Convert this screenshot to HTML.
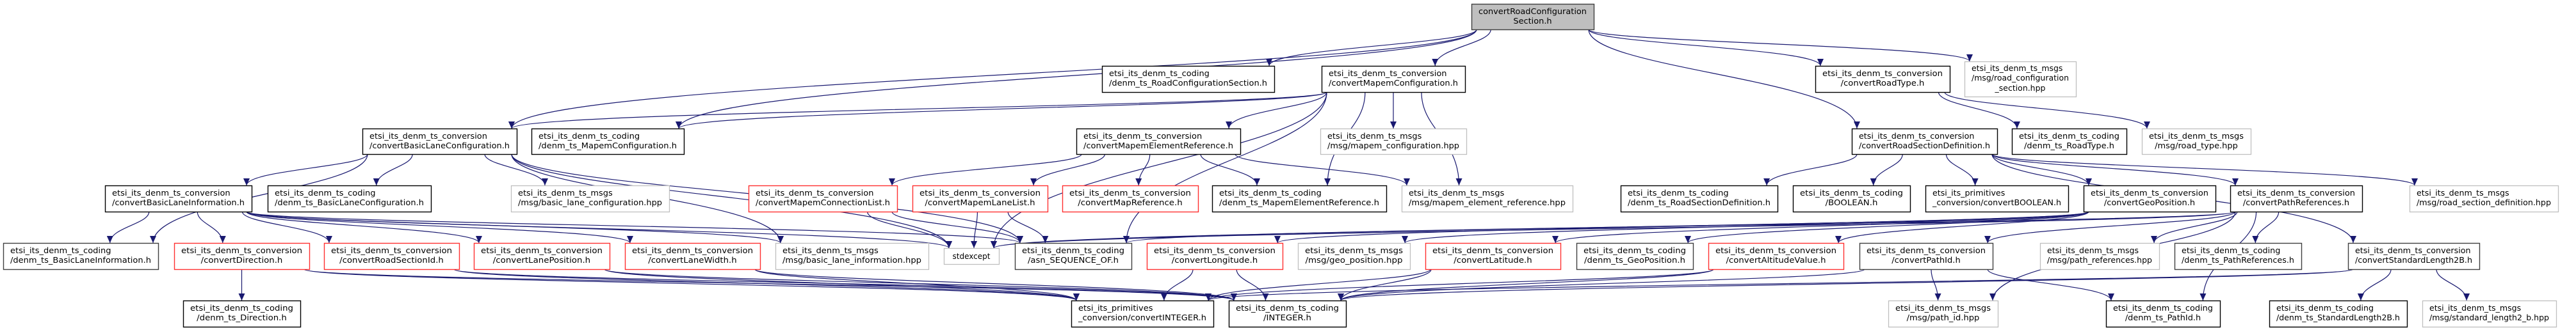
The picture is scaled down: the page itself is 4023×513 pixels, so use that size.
<!DOCTYPE html>
<html><head><meta charset="utf-8">
<style>
html,body{margin:0;padding:0;background:#fff;}
svg{display:block;}
text{font-family:"DejaVu Sans","Liberation Sans",sans-serif;font-size:12px;fill:#000;}
</style></head>
<body>
<svg id="s" width="4023" height="513" viewBox="0 0 4023 513" xmlns="http://www.w3.org/2000/svg">
<defs><marker id="ah" markerUnits="userSpaceOnUse" markerWidth="12" markerHeight="10" refX="11" refY="5" orient="auto"><path d="M0,0 L11,5 L0,10 z" fill="#191970"/></marker></defs>
<g id="edges"></g>
<g id="nodes">
<g id="top"><text>convertRoadConfiguration</text><text>Section.h</text></g>
<g id="mc"><text>etsi_its_denm_ts_conversion</text><text>/convertMapemConfiguration.h</text></g>
<g id="rcs"><text>etsi_its_denm_ts_coding</text><text>/denm_ts_RoadConfigurationSection.h</text></g>
<g id="rt"><text>etsi_its_denm_ts_conversion</text><text>/convertRoadType.h</text></g>
<g id="rcshpp"><text>etsi_its_denm_ts_msgs</text><text>/msg/road_configuration</text><text>_section.hpp</text></g>
<g id="blc"><text>etsi_its_denm_ts_conversion</text><text>/convertBasicLaneConfiguration.h</text></g>
<g id="mcc"><text>etsi_its_denm_ts_coding</text><text>/denm_ts_MapemConfiguration.h</text></g>
<g id="mer"><text>etsi_its_denm_ts_conversion</text><text>/convertMapemElementReference.h</text></g>
<g id="mchpp"><text>etsi_its_denm_ts_msgs</text><text>/msg/mapem_configuration.hpp</text></g>
<g id="rsd"><text>etsi_its_denm_ts_conversion</text><text>/convertRoadSectionDefinition.h</text></g>
<g id="rth"><text>etsi_its_denm_ts_coding</text><text>/denm_ts_RoadType.h</text></g>
<g id="rthpp"><text>etsi_its_denm_ts_msgs</text><text>/msg/road_type.hpp</text></g>
<g id="bli"><text>etsi_its_denm_ts_conversion</text><text>/convertBasicLaneInformation.h</text></g>
<g id="blch"><text>etsi_its_denm_ts_coding</text><text>/denm_ts_BasicLaneConfiguration.h</text></g>
<g id="blchpp"><text>etsi_its_denm_ts_msgs</text><text>/msg/basic_lane_configuration.hpp</text></g>
<g id="mcl"><text>etsi_its_denm_ts_conversion</text><text>/convertMapemConnectionList.h</text></g>
<g id="mll"><text>etsi_its_denm_ts_conversion</text><text>/convertMapemLaneList.h</text></g>
<g id="mr"><text>etsi_its_denm_ts_conversion</text><text>/convertMapReference.h</text></g>
<g id="merh"><text>etsi_its_denm_ts_coding</text><text>/denm_ts_MapemElementReference.h</text></g>
<g id="merhpp"><text>etsi_its_denm_ts_msgs</text><text>/msg/mapem_element_reference.hpp</text></g>
<g id="rsdh"><text>etsi_its_denm_ts_coding</text><text>/denm_ts_RoadSectionDefinition.h</text></g>
<g id="boolh"><text>etsi_its_denm_ts_coding</text><text>/BOOLEAN.h</text></g>
<g id="cbool"><text>etsi_its_primitives</text><text>_conversion/convertBOOLEAN.h</text></g>
<g id="geo"><text>etsi_its_denm_ts_conversion</text><text>/convertGeoPosition.h</text></g>
<g id="pr"><text>etsi_its_denm_ts_conversion</text><text>/convertPathReferences.h</text></g>
<g id="rsdhpp"><text>etsi_its_denm_ts_msgs</text><text>/msg/road_section_definition.hpp</text></g>
<g id="blih"><text>etsi_its_denm_ts_coding</text><text>/denm_ts_BasicLaneInformation.h</text></g>
<g id="dir"><text>etsi_its_denm_ts_conversion</text><text>/convertDirection.h</text></g>
<g id="rsid"><text>etsi_its_denm_ts_conversion</text><text>/convertRoadSectionId.h</text></g>
<g id="lp"><text>etsi_its_denm_ts_conversion</text><text>/convertLanePosition.h</text></g>
<g id="lw"><text>etsi_its_denm_ts_conversion</text><text>/convertLaneWidth.h</text></g>
<g id="blihpp"><text>etsi_its_denm_ts_msgs</text><text>/msg/basic_lane_information.hpp</text></g>
<g id="stdex"><text>stdexcept</text></g>
<g id="asn"><text>etsi_its_denm_ts_coding</text><text>/asn_SEQUENCE_OF.h</text></g>
<g id="lon"><text>etsi_its_denm_ts_conversion</text><text>/convertLongitude.h</text></g>
<g id="geohpp"><text>etsi_its_denm_ts_msgs</text><text>/msg/geo_position.hpp</text></g>
<g id="lat"><text>etsi_its_denm_ts_conversion</text><text>/convertLatitude.h</text></g>
<g id="geoh"><text>etsi_its_denm_ts_coding</text><text>/denm_ts_GeoPosition.h</text></g>
<g id="alt"><text>etsi_its_denm_ts_conversion</text><text>/convertAltitudeValue.h</text></g>
<g id="pid"><text>etsi_its_denm_ts_conversion</text><text>/convertPathId.h</text></g>
<g id="prhpp"><text>etsi_its_denm_ts_msgs</text><text>/msg/path_references.hpp</text></g>
<g id="prh"><text>etsi_its_denm_ts_coding</text><text>/denm_ts_PathReferences.h</text></g>
<g id="sl"><text>etsi_its_denm_ts_conversion</text><text>/convertStandardLength2B.h</text></g>
<g id="dirh"><text>etsi_its_denm_ts_coding</text><text>/denm_ts_Direction.h</text></g>
<g id="cint"><text>etsi_its_primitives</text><text>_conversion/convertINTEGER.h</text></g>
<g id="int"><text>etsi_its_denm_ts_coding</text><text>/INTEGER.h</text></g>
<g id="pidhpp"><text>etsi_its_denm_ts_msgs</text><text>/msg/path_id.hpp</text></g>
<g id="pidh"><text>etsi_its_denm_ts_coding</text><text>/denm_ts_PathId.h</text></g>
<g id="slh"><text>etsi_its_denm_ts_coding</text><text>/denm_ts_StandardLength2B.h</text></g>
<g id="slhpp"><text>etsi_its_denm_ts_msgs</text><text>/msg/standard_length2_b.hpp</text></g>
</g>
</svg>
<script>
var R=[[6,46],[103,144],[201,241],[290,331],[380,421],[470,511]];
var B="#000",RD="#ff3030",G="#bfbfbf",D="#404040";
var N={
top:[2298,2489,0,D,"#bfbfbf"],mc:[2064,2288,1,B],rcs:[1721,1990,1,B],rt:[2835,3045,1,B],rcshpp:[3068,3242,[96,151],G],
blc:[566,807,2,B],mcc:[830,1068,2,B],mer:[1681,1937,2,B],mchpp:[2062,2290,2,G],rsd:[2892,3119,2,B],rth:[3142,3321,2,B],rthpp:[3345,3515,2,G],
bli:[164,393,3,B],blch:[418,673,3,B],blchpp:[798,1045,3,G],mcl:[1169,1401,3,RD],mll:[1425,1636,3,RD],mr:[1659,1871,3,RD],merh:[1893,2165,3,B],merhpp:[2189,2456,3,G],rsdh:[2531,2776,3,B],boolh:[2800,2983,3,B],cbool:[3007,3230,3,B],geo:[3254,3460,3,B],pr:[3483,3689,3,B],rsdhpp:[3763,3995,3,G],
blih:[5,247,4,D],dir:[272,483,4,RD],rsid:[506,717,4,RD],lp:[740,952,4,RD],lw:[976,1187,4,RD],blihpp:[1211,1450,4,G],stdex:[1474,1560,[388,413],G],asn:[1585,1767,4,D],lon:[1791,2003,4,RD],geohpp:[2027,2202,4,G],lat:[2226,2437,4,RD],geoh:[2462,2644,4,D],alt:[2668,2879,4,RD],pid:[2904,3112,4,D],prhpp:[3186,3372,4,G],prh:[3396,3594,4,D],sl:[3667,3872,4,D],
dirh:[286,469,5,B],cint:[1673,1895,5,B],int:[1919,2102,5,B],pidhpp:[2949,3120,5,G],pidh:[3289,3467,5,B],slh:[3544,3759,5,B],slhpp:[3783,3992,5,G]};
var NS="http://www.w3.org/2000/svg";
function Y(n){var r=n[2];return Array.isArray(r)?r:R[r];}
for(var id in N){var n=N[id],g=document.getElementById(id),y=Y(n),x1=n[0],x2=n[1];
 var rc=document.createElementNS(NS,"rect");rc.setAttribute("x",x1+0.5);rc.setAttribute("y",y[0]+0.5);rc.setAttribute("width",x2-x1);rc.setAttribute("height",y[1]-y[0]);
 rc.setAttribute("fill",n[4]||"#fff");rc.setAttribute("stroke",n[3]);rc.setAttribute("stroke-width",n[3]==G?1.3:1.4);g.insertBefore(rc,g.firstChild);
 var ts=g.getElementsByTagName("text"),k=ts.length,w=x2-x1;
 var lens=[];for(var i=0;i<k;i++)lens.push(ts[i].getComputedTextLength());
 var mx=0;for(i=0;i<k;i++)if(lens[i]>lens[mx])mx=i;
 var sc=(w-22)/lens[mx];
 var bl = k==1?[y[0]+17]:(k==2?[y[0]+16,y[0]+31]:[y[0]+15,y[0]+30,y[0]+46]);
 for(i=0;i<k;i++){var t=ts[i];t.setAttribute("y",bl[i]);
  if(k==1){t.setAttribute("x",(x1+x2)/2);t.setAttribute("text-anchor","middle");continue;}
  var L=lens[i]*sc;t.setAttribute("textLength",L);t.setAttribute("lengthAdjust","spacingAndGlyphs");
  if(i==mx||i<mx){t.setAttribute("x",x1+11);}else{t.setAttribute("x",(x1+x2)/2);t.setAttribute("text-anchor","middle");}
 }}
var E={top:["mc","rcs","blc","mcc","rt","rsd","rcshpp"],mc:["blc","mcc","mer","mchpp","merh","merhpp","stdex","asn"],
blc:["bli","blch","blchpp","blih","stdex","asn","blihpp"],bli:["blih","dir","rsid","lp","lw","blihpp","stdex","asn"],
dir:["dirh","cint","int"],rsid:["cint","int"],lp:["cint","int"],lw:["cint","int"],mer:["mcl","mll","mr","merh","merhpp"],
mcl:["stdex","asn"],mll:["stdex","asn"],lon:["cint","int"],lat:["cint","int"],alt:["cint","int"],rt:["rth","rthpp"],
rsd:["rsdh","boolh","cbool","geo","pr","rsdhpp","sl"],geo:["lat","lon","alt","geoh","geohpp","stdex"],
pr:["prhpp","prh","pidh","pid","pidhpp","stdex","asn"],pid:["pidhpp","pidh","int"],sl:["int","cint","slh","slhpp"]};
var eg=document.getElementById("edges");
function cl(v,a){return Math.max(-a,Math.min(a,v));}
for(var s in E){var a=N[s],ay=Y(a),acx=(a[0]+a[1])/2,aw=(a[1]-a[0])/2;
 E[s].forEach(function(t){var b=N[t],by=Y(b),bcx=(b[0]+b[1])/2,bw=(b[1]-b[0])/2;
  var sx=acx+cl((bcx-acx)*0.3,aw-8),sy=ay[1];
  var tx=bcx+cl((acx-bcx)*0.3,bw-8),ty=by[0];
  var dy=ty-sy;
  var p=document.createElementNS(NS,"path");
  p.setAttribute("d","M"+sx+","+sy+" C"+sx+","+(sy+dy*0.4)+" "+tx+","+(ty-dy*0.5)+" "+tx+","+ty);
  p.setAttribute("fill","none");p.setAttribute("stroke","#191970");p.setAttribute("stroke-width","1.2");p.setAttribute("marker-end","url(#ah)");
  eg.appendChild(p);});}
</script>
</body></html>
